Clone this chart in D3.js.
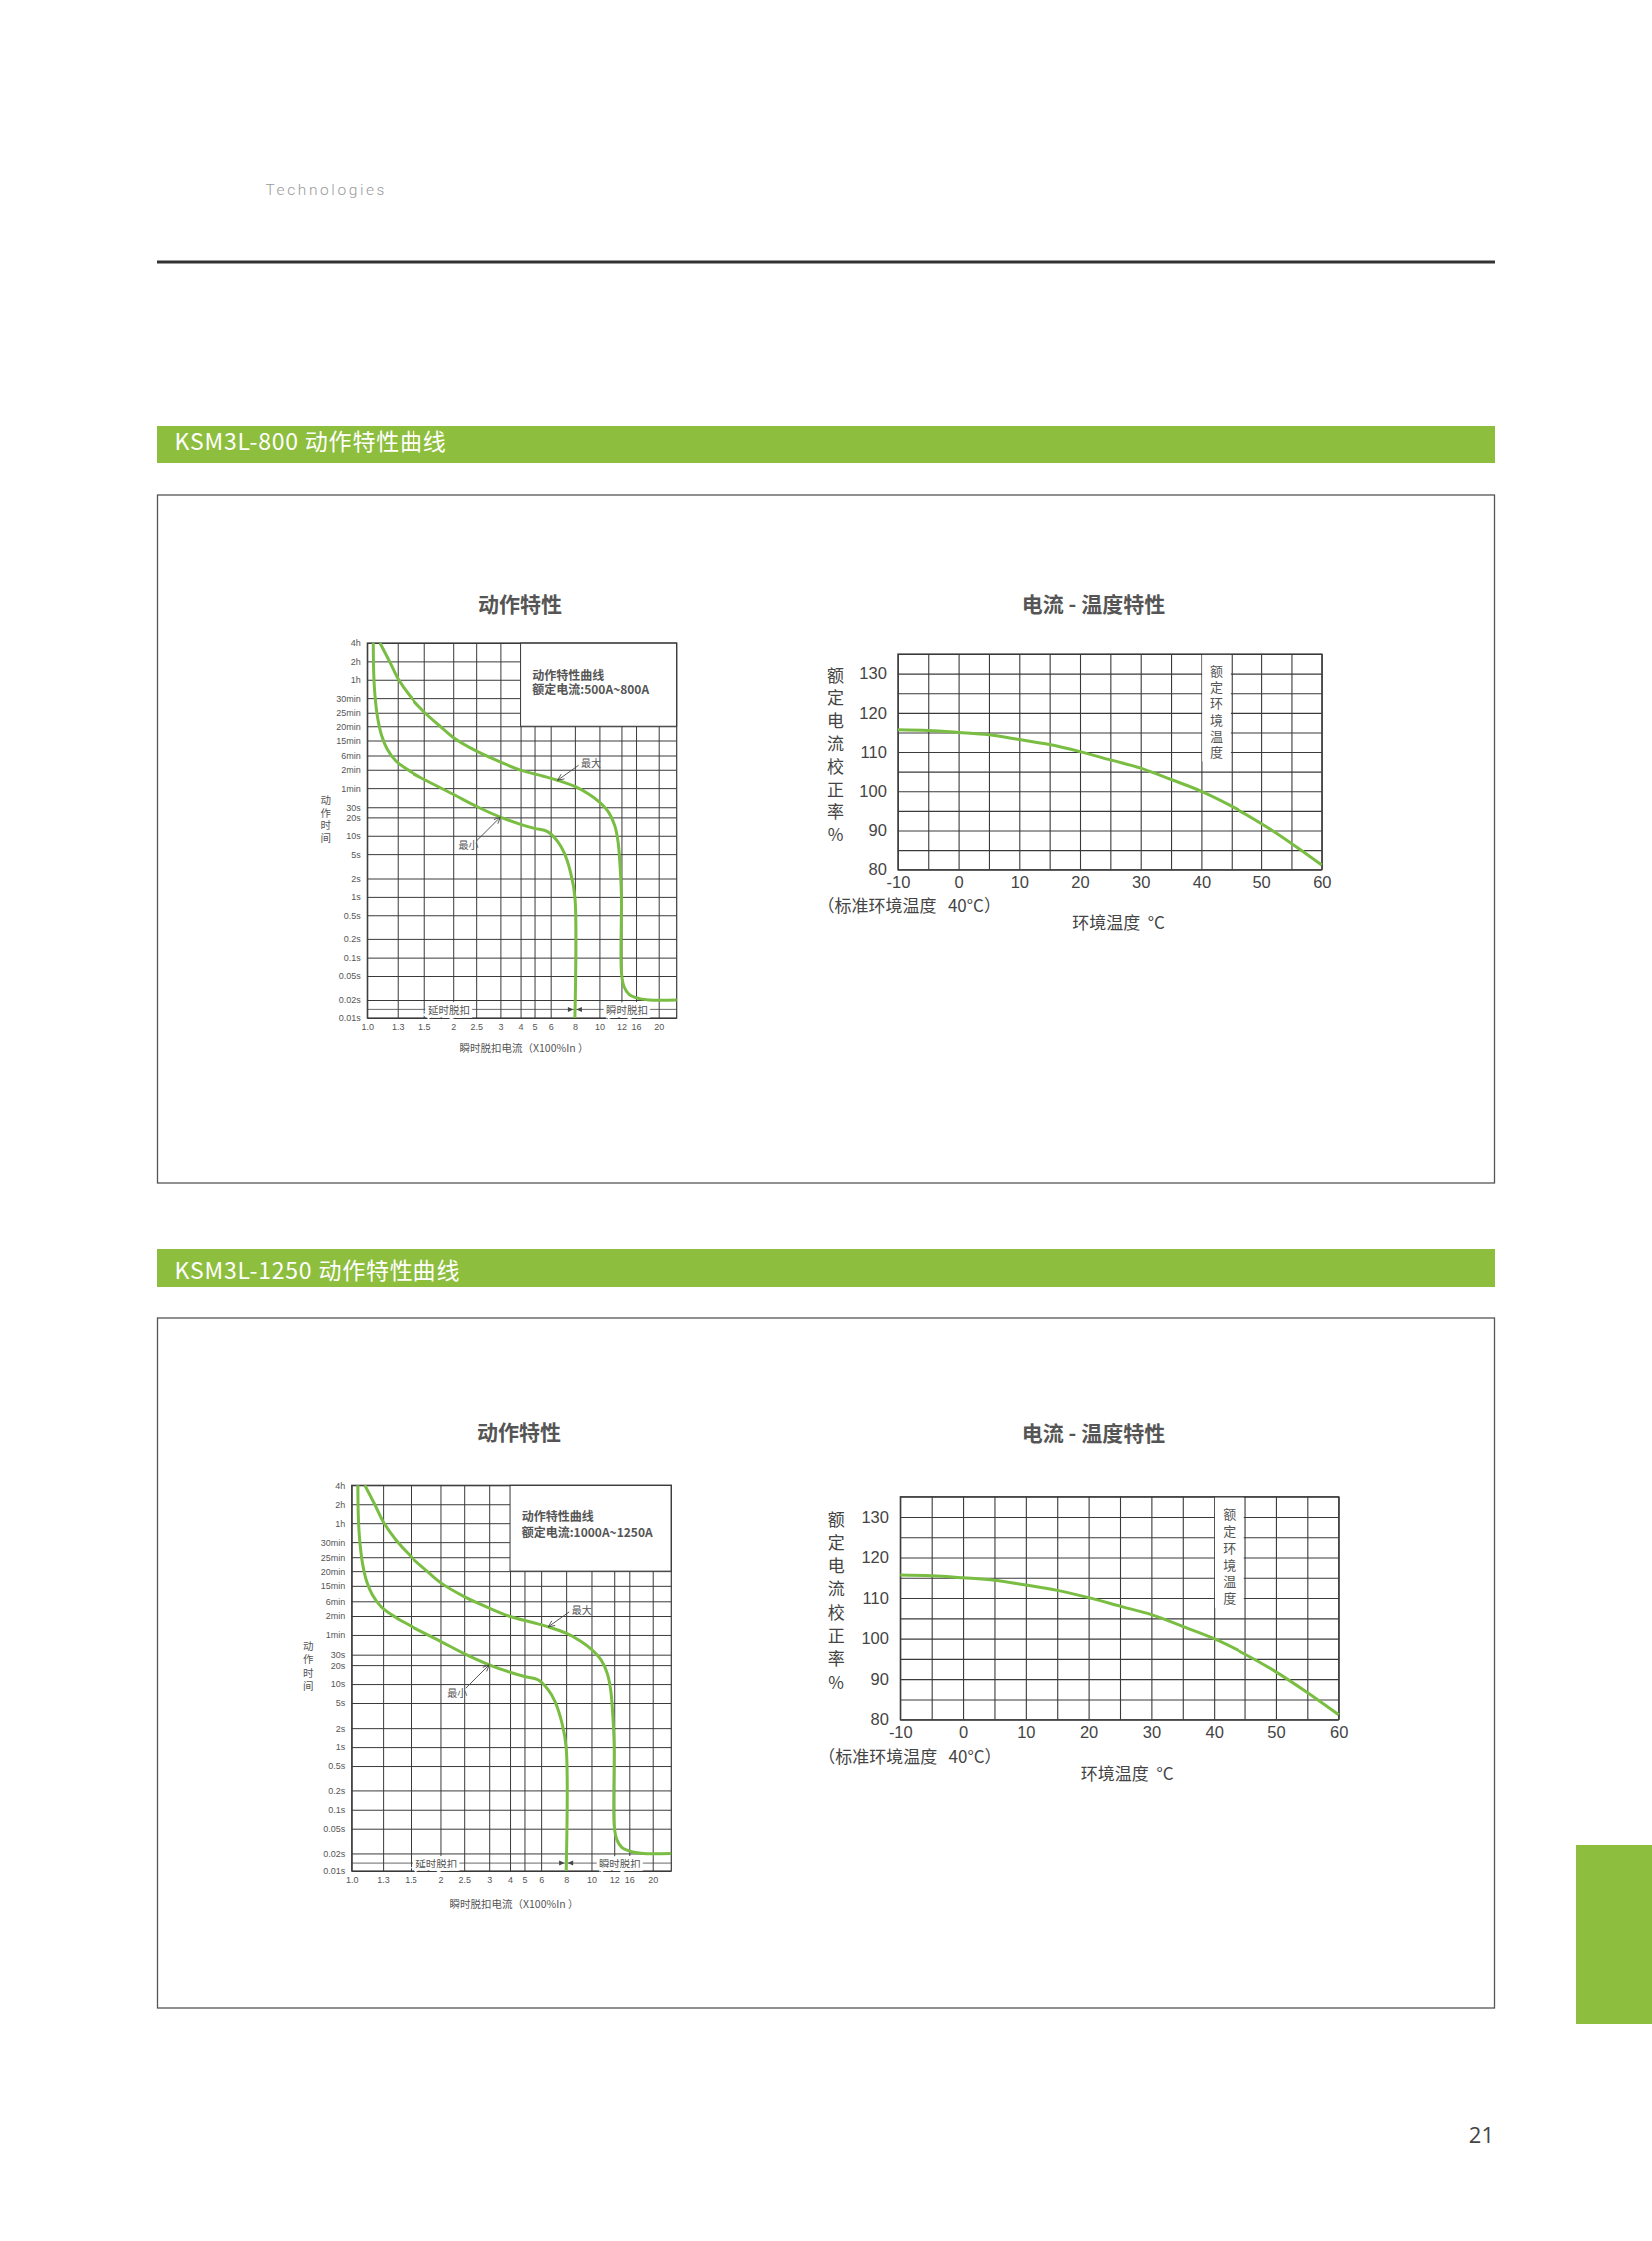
<!DOCTYPE html>
<html><head><meta charset="utf-8">
<script src="https://cdn.jsdelivr.net/npm/d3@7"></script>
<style>body{margin:0;background:#fff}svg{display:block}text{white-space:pre}</style>
</head><body>
<svg id="page" width="1654" height="2244"></svg>
<script>
// ---------------- DATA ----------------
// Trip characteristic chart (printed axes are non-uniform; slots give each tick's place along its axis, 0..1)
const xTickValues = [1, 1.3, 1.5, 2, 2.5, 3, 4, 5, 6, 8, 10, 12, 16, 20];
const xTickLabels = ["1.0","1.3","1.5","2","2.5","3","4","5","6","8","10","12","16","20"];
const xAxisEnd = 24;
const xTickSlots = [0, 0.098, 0.185, 0.280, 0.354, 0.432, 0.497, 0.542, 0.594, 0.672, 0.751, 0.822, 0.869, 0.942, 1];

const yTickLabels = ["0.01s","0.02s","0.05s","0.1s","0.2s","0.5s","1s","2s","5s","10s","20s","30s","1min","2min","6min","15min","20min","25min","30min","1h","2h","4h"];
const yTickSeconds = [0.01,0.02,0.05,0.1,0.2,0.5,1,2,5,10,20,30,60,120,360,900,1200,1500,1800,3600,7200,14400];
const yTickSlots = [0,0.048,0.112,0.161,0.211,0.274,0.323,0.372,0.437,0.486,0.535,0.562,0.613,0.662,0.700,0.740,0.778,0.814,0.853,0.902,0.951,1];

// "最大" (max) curve: current multiple of In, trip time in seconds
const maxCurveI = [1.125,1.224,1.304,1.391,1.5,1.758,2.0,2.5,3,4,5.5,6.57,8,9.15,10,10.87,11.4,11.7,11.91,12,12,12.66,14.09,16.58,18.35,24];
const maxCurveT = [14400,6930,3695,1965,1518,1220,958,476,218,118,94.6,80.7,63.9,48,36.1,24,14.5,7.76,2.5,1.01,0.0566,0.0338,0.0248,0.0211,0.02,0.02];
// "最小" (min) curve
const minCurveI = [1.059,1.063,1.076,1.103,1.142,1.197,1.283,1.391,1.5,2,2.5,3,4,5,5.81,6.57,7.11,7.65,8,8];
const minCurveT = [14400,4750,1965,1364,991,529,235,114,83.7,48,31.1,20.2,15.4,13.2,11.7,8.1,5.28,2.48,1.0,0.01];

// Current - temperature characteristic
const tempC   = [-10,-5,0,5,10,15,20,25,30,35,40,45,50,55,60];
const ratePct = [115.7,115.5,115.0,114.4,113.2,111.9,110.1,108.0,105.9,103.0,100.0,96.2,91.8,86.7,81.2];
const tempTicks = [-10,0,10,20,30,40,50,60];
const rateTicks = [80,90,100,110,120,130];

const sectionTitles = ["KSM3L-800 动作特性曲线", "KSM3L-1250 动作特性曲线"];
const ratedTexts = ["额定电流:500A~800A", "额定电流:1000A~1250A"];

// ---------------- LAYOUT ----------------
const GREEN = "#8dbe3e", CURVE = "#79be43";
const FONT = "'Liberation Sans','Noto Sans CJK SC',sans-serif";
const CJK = "'Noto Sans CJK SC','Noto Sans',sans-serif";

const panels = [
  { bar:[427,464], box:[496,1185], barText:451,
    L:{x0:367.3,x1:677.7,y0:644,y1:1019,titleX:521,titleY:613,yTitleX:325.7,yTitleY:800.5,yTitleStep:12.5,xTitleX:525,xTitleY:1053,legendX:533.3,legendY:680.7,legendStep:14.6},
    R:{x0:898.9,x1:1323.8,y0:655,y1:870.7,titleX:1094.5,titleY:613,yTitleX:836.5,yTitleY:675,yTitleStep:22.8,tickPad:11,noteX:818.5,noteY:913.3,xTitleX:1119.6,xTitleY:930} },
  { bar:[1251,1289], box:[1320,2011], barText:1281,
    L:{x0:351.7,x1:672.3,y0:1487.3,y1:1874,titleX:520,titleY:1442.3,yTitleX:308.3,yTitleY:1647.7,yTitleStep:13.2,xTitleX:515,xTitleY:1910.7,legendX:522.7,legendY:1523.3,legendStep:16},
    R:{x0:901.3,x1:1340.7,y0:1498.7,y1:1721.7,titleX:1094.5,titleY:1442.7,yTitleX:837.2,yTitleY:1520,yTitleStep:23.3,tickPad:11.4,noteX:819.2,noteY:1765,xTitleX:1128.2,xTitleY:1781.7} }
];

const svg = d3.select("#page");
svg.append("rect").attr("width",1654).attr("height",2244).attr("fill","#fff");

// header
svg.append("text").attr("x",265.5).attr("y",195).text("Technologies")
  .attr("font-family","Roboto,'Open Sans',sans-serif").attr("font-weight",300)
  .attr("font-size",15.5).attr("letter-spacing",2.6).attr("fill","#9a9a9a");
svg.append("line").attr("x1",157).attr("x2",1497).attr("y1",262).attr("y2",262)
  .attr("stroke","#333").attr("stroke-width",3);

// side tab + page number
svg.append("rect").attr("x",1578).attr("y",1847).attr("width",76).attr("height",180).attr("fill",GREEN);
svg.append("text").attr("x",1496).attr("y",2146).attr("text-anchor","end").text("21")
  .attr("font-family","'Open Sans','Noto Sans',sans-serif").attr("font-size",22).attr("fill","#444");

function vText(g, chars, x, y, step, size, color){
  g.selectAll(null).data(chars).join("text")
    .attr("x",x).attr("y",(d,i)=>y+i*step).attr("text-anchor","middle")
    .attr("dominant-baseline","central").attr("font-family",CJK)
    .attr("font-size",size).attr("fill",color).text(d=>d);
}

function arrow(g, tip, dx, dy){
  const tail=[tip[0]+dx, tip[1]+dy];
  g.append("line").attr("x1",tail[0]).attr("y1",tail[1]).attr("x2",tip[0]).attr("y2",tip[1])
    .attr("stroke","#444").attr("stroke-width",0.9);
  const ang=Math.atan2(tail[1]-tip[1], tail[0]-tip[0]), len=7, sp=0.42;
  const p1=[tip[0]+len*Math.cos(ang+sp), tip[1]+len*Math.sin(ang+sp)];
  const p2=[tip[0]+len*Math.cos(ang-sp), tip[1]+len*Math.sin(ang-sp)];
  g.append("path").attr("d",`M${p1}L${tip}L${p2}`).attr("fill","none").attr("stroke","#444").attr("stroke-width",0.9);
}

function actionChart(g, L, rated){
  const W=L.x1-L.x0, H=L.y1-L.y0;
  const x=d3.scaleLinear().domain([...xTickValues,xAxisEnd]).range(xTickSlots.map(f=>L.x0+f*W));
  const yl=d3.scaleLinear().domain(yTickSeconds.map(Math.log10)).range(yTickSlots.map(f=>L.y1-f*H));
  const y=s=>yl(Math.log10(s));

  g.append("text").attr("x",L.titleX).attr("y",L.titleY).attr("text-anchor","middle")
    .attr("font-family",CJK).attr("font-weight","bold").attr("font-size",21).attr("fill","#555").text("动作特性");

  g.append("g").attr("transform",`translate(${L.x0},0)`)
    .call(d3.axisLeft(yl).tickValues(yTickSeconds.map(Math.log10)).tickSize(-W).tickPadding(6.5)
      .tickFormat((d,i)=>yTickLabels[i]))
    .call(a=>{a.select(".domain").remove();
      a.selectAll("line").attr("stroke","#3a3a3a").attr("stroke-width",1);
      a.selectAll("text").attr("font-family",FONT).attr("font-size",9).attr("fill","#555");});
  g.append("g").attr("transform",`translate(0,${L.y1})`)
    .call(d3.axisBottom(x).tickValues(xTickValues).tickSize(-H).tickPadding(6)
      .tickFormat((d,i)=>xTickLabels[i]))
    .call(a=>{a.select(".domain").remove();
      a.selectAll("line").attr("stroke","#3a3a3a").attr("stroke-width",1);
      a.selectAll("text").attr("font-family",FONT).attr("font-size",9).attr("fill","#555");});

  // legend box
  g.append("rect").attr("x",x(4)).attr("y",L.y0).attr("width",L.x1-x(4)).attr("height",y(1200)-L.y0)
    .attr("fill","#fff").attr("stroke","#3a3a3a").attr("stroke-width",1);
  g.append("text").attr("x",L.legendX).attr("y",L.legendY).text("动作特性曲线")
    .attr("font-family",CJK).attr("font-weight","bold").attr("font-size",12).attr("fill","#555");
  g.append("text").attr("x",L.legendX).attr("y",L.legendY+L.legendStep).text(rated)
    .attr("font-family",CJK).attr("font-weight","bold").attr("font-size",12).attr("fill","#555");

  g.append("rect").attr("x",L.x0).attr("y",L.y0).attr("width",W).attr("height",H)
    .attr("fill","none").attr("stroke","#3a3a3a").attr("stroke-width",1.2);

  // delayed / instantaneous annotation line
  const ay=L.y1-0.023*H;
  g.append("line").attr("x1",L.x0).attr("x2",L.x1).attr("y1",ay).attr("y2",ay).attr("stroke","#444").attr("stroke-width",0.8);
  [[1.93,"延时脱扣"],[13.5,"瞬时脱扣"]].forEach(([v,t])=>{
    g.append("text").attr("x",x(v)).attr("y",ay).attr("text-anchor","middle").attr("dominant-baseline","central")
      .attr("font-family",CJK).attr("font-size",10.5).attr("fill","#555")
      .attr("stroke","#fff").attr("stroke-width",6).attr("paint-order","stroke").text(t);
  });
  const ax=x(8);
  g.append("path").attr("d",`M${ax-7},${ay-2.5}L${ax-1.5},${ay}L${ax-7},${ay+2.5}Z M${ax+7},${ay-2.5}L${ax+1.5},${ay}L${ax+7},${ay+2.5}Z`)
    .attr("fill","#444");

  const line=d3.line().x(d=>x(d[0])).y(d=>y(d[1])).curve(d3.curveCatmullRom.alpha(0.5));
  const maxPts=maxCurveI.map((v,i)=>[v,maxCurveT[i]]);
  const minPts=minCurveI.map((v,i)=>[v,minCurveT[i]]);
  [maxPts,minPts].forEach(p=>g.append("path").attr("d",line(p)).attr("fill","none")
    .attr("stroke",CURVE).attr("stroke-width",3).attr("stroke-linejoin","round"));

  const tMax=[x(6.57),y(80.7)], tMin=[x(3),y(20.2)];
  arrow(g,tMax,21,-15);
  arrow(g,tMin,-23.4,23.3);
  g.append("text").attr("x",tMax[0]+33.5).attr("y",tMax[1]-17.5).attr("text-anchor","middle").attr("dominant-baseline","central")
    .attr("font-family",CJK).attr("font-size",10).attr("fill","#555").text("最大");
  g.append("text").attr("x",tMin[0]-32).attr("y",tMin[1]+27.7).attr("text-anchor","middle").attr("dominant-baseline","central")
    .attr("font-family",CJK).attr("font-size",10).attr("fill","#555").text("最小");

  vText(g,["动","作","时","间"],L.yTitleX,L.yTitleY,L.yTitleStep,10.5,"#555");
  g.append("text").attr("x",L.xTitleX).attr("y",L.xTitleY).attr("text-anchor","middle")
    .attr("font-family",CJK).attr("font-size",10.5).attr("fill","#555").text("瞬时脱扣电流（X100%In ）");
}

function tempChart(g, R){
  const W=R.x1-R.x0, H=R.y1-R.y0;
  const x=d3.scaleLinear().domain([-10,60]).range([R.x0,R.x1]);
  const y=d3.scaleLinear().domain([80,135]).range([R.y1,R.y0]);

  g.append("text").attr("x",R.titleX).attr("y",R.titleY).attr("text-anchor","middle")
    .attr("font-family",CJK).attr("font-weight","bold").attr("font-size",21).attr("fill","#555").text("电流 - 温度特性");

  g.append("g").attr("transform",`translate(0,${R.y1})`)
    .call(d3.axisBottom(x).tickValues(d3.range(-10,61,5)).tickSize(-H).tickPadding(7)
      .tickFormat(d=>tempTicks.includes(d)?d:""))
    .call(a=>{a.select(".domain").remove();
      a.selectAll("line").attr("stroke","#3a3a3a").attr("stroke-width",1.1);
      a.selectAll("text").attr("font-family",FONT).attr("font-size",16.5).attr("fill","#444");});
  g.append("g").attr("transform",`translate(${R.x0},0)`)
    .call(d3.axisLeft(y).tickValues(d3.range(80,136,5)).tickSize(-W).tickPadding(R.tickPad)
      .tickFormat(d=>rateTicks.includes(d)?d:""))
    .call(a=>{a.select(".domain").remove();
      a.selectAll("line").attr("stroke","#3a3a3a").attr("stroke-width",1.1);
      a.selectAll("text").attr("font-family",FONT).attr("font-size",16.5).attr("fill","#444");});

  g.append("rect").attr("x",x(40)+0.8).attr("y",R.y0+0.8).attr("width",x(45)-x(40)-1.6).attr("height",y(107.8)-R.y0)
    .attr("fill","#fff");
  const bx=(x(40)+x(45))/2, by0=R.y0+0.076*H, step=0.0755*H;
  vText(g,["额","定","环","境","温","度"],bx,by0,step,13,"#555");

  g.append("rect").attr("x",R.x0).attr("y",R.y0).attr("width",W).attr("height",H)
    .attr("fill","none").attr("stroke","#3a3a3a").attr("stroke-width",1.2);

  g.append("path").attr("d",d3.line().x(d=>x(d[0])).y(d=>y(d[1])).curve(d3.curveMonotoneX)(tempC.map((t,i)=>[t,ratePct[i]])))
    .attr("fill","none").attr("stroke",CURVE).attr("stroke-width",3);

  vText(g,["额","定","电","流","校","正","率","%"],R.yTitleX,R.yTitleY,R.yTitleStep,17,"#444");
  g.append("text").attr("x",R.noteX).attr("y",R.noteY).attr("font-family",CJK).attr("font-size",17).attr("fill","#444")
    .text("（标准环境温度   40°C）");
  g.append("text").attr("x",R.xTitleX).attr("y",R.xTitleY).attr("text-anchor","middle").attr("font-family",CJK)
    .attr("font-size",17).attr("fill","#444").text("环境温度  °C");
}

panels.forEach((p,i)=>{
  const g=svg.append("g");
  g.append("rect").attr("x",157).attr("y",p.bar[0]).attr("width",1340).attr("height",p.bar[1]-p.bar[0]).attr("fill",GREEN);
  g.append("text").attr("x",174.5).attr("y",p.barText).attr("font-family",CJK).attr("font-size",23)
    .attr("letter-spacing",0.8).attr("fill","#fff").text(sectionTitles[i]);
  g.append("rect").attr("x",157.5).attr("y",p.box[0]).attr("width",1339).attr("height",p.box[1]-p.box[0])
    .attr("fill","#fff").attr("stroke","#555").attr("stroke-width",1.3);
  actionChart(g,p.L,ratedTexts[i]);
  tempChart(g,p.R);
});
</script>
</body></html>
